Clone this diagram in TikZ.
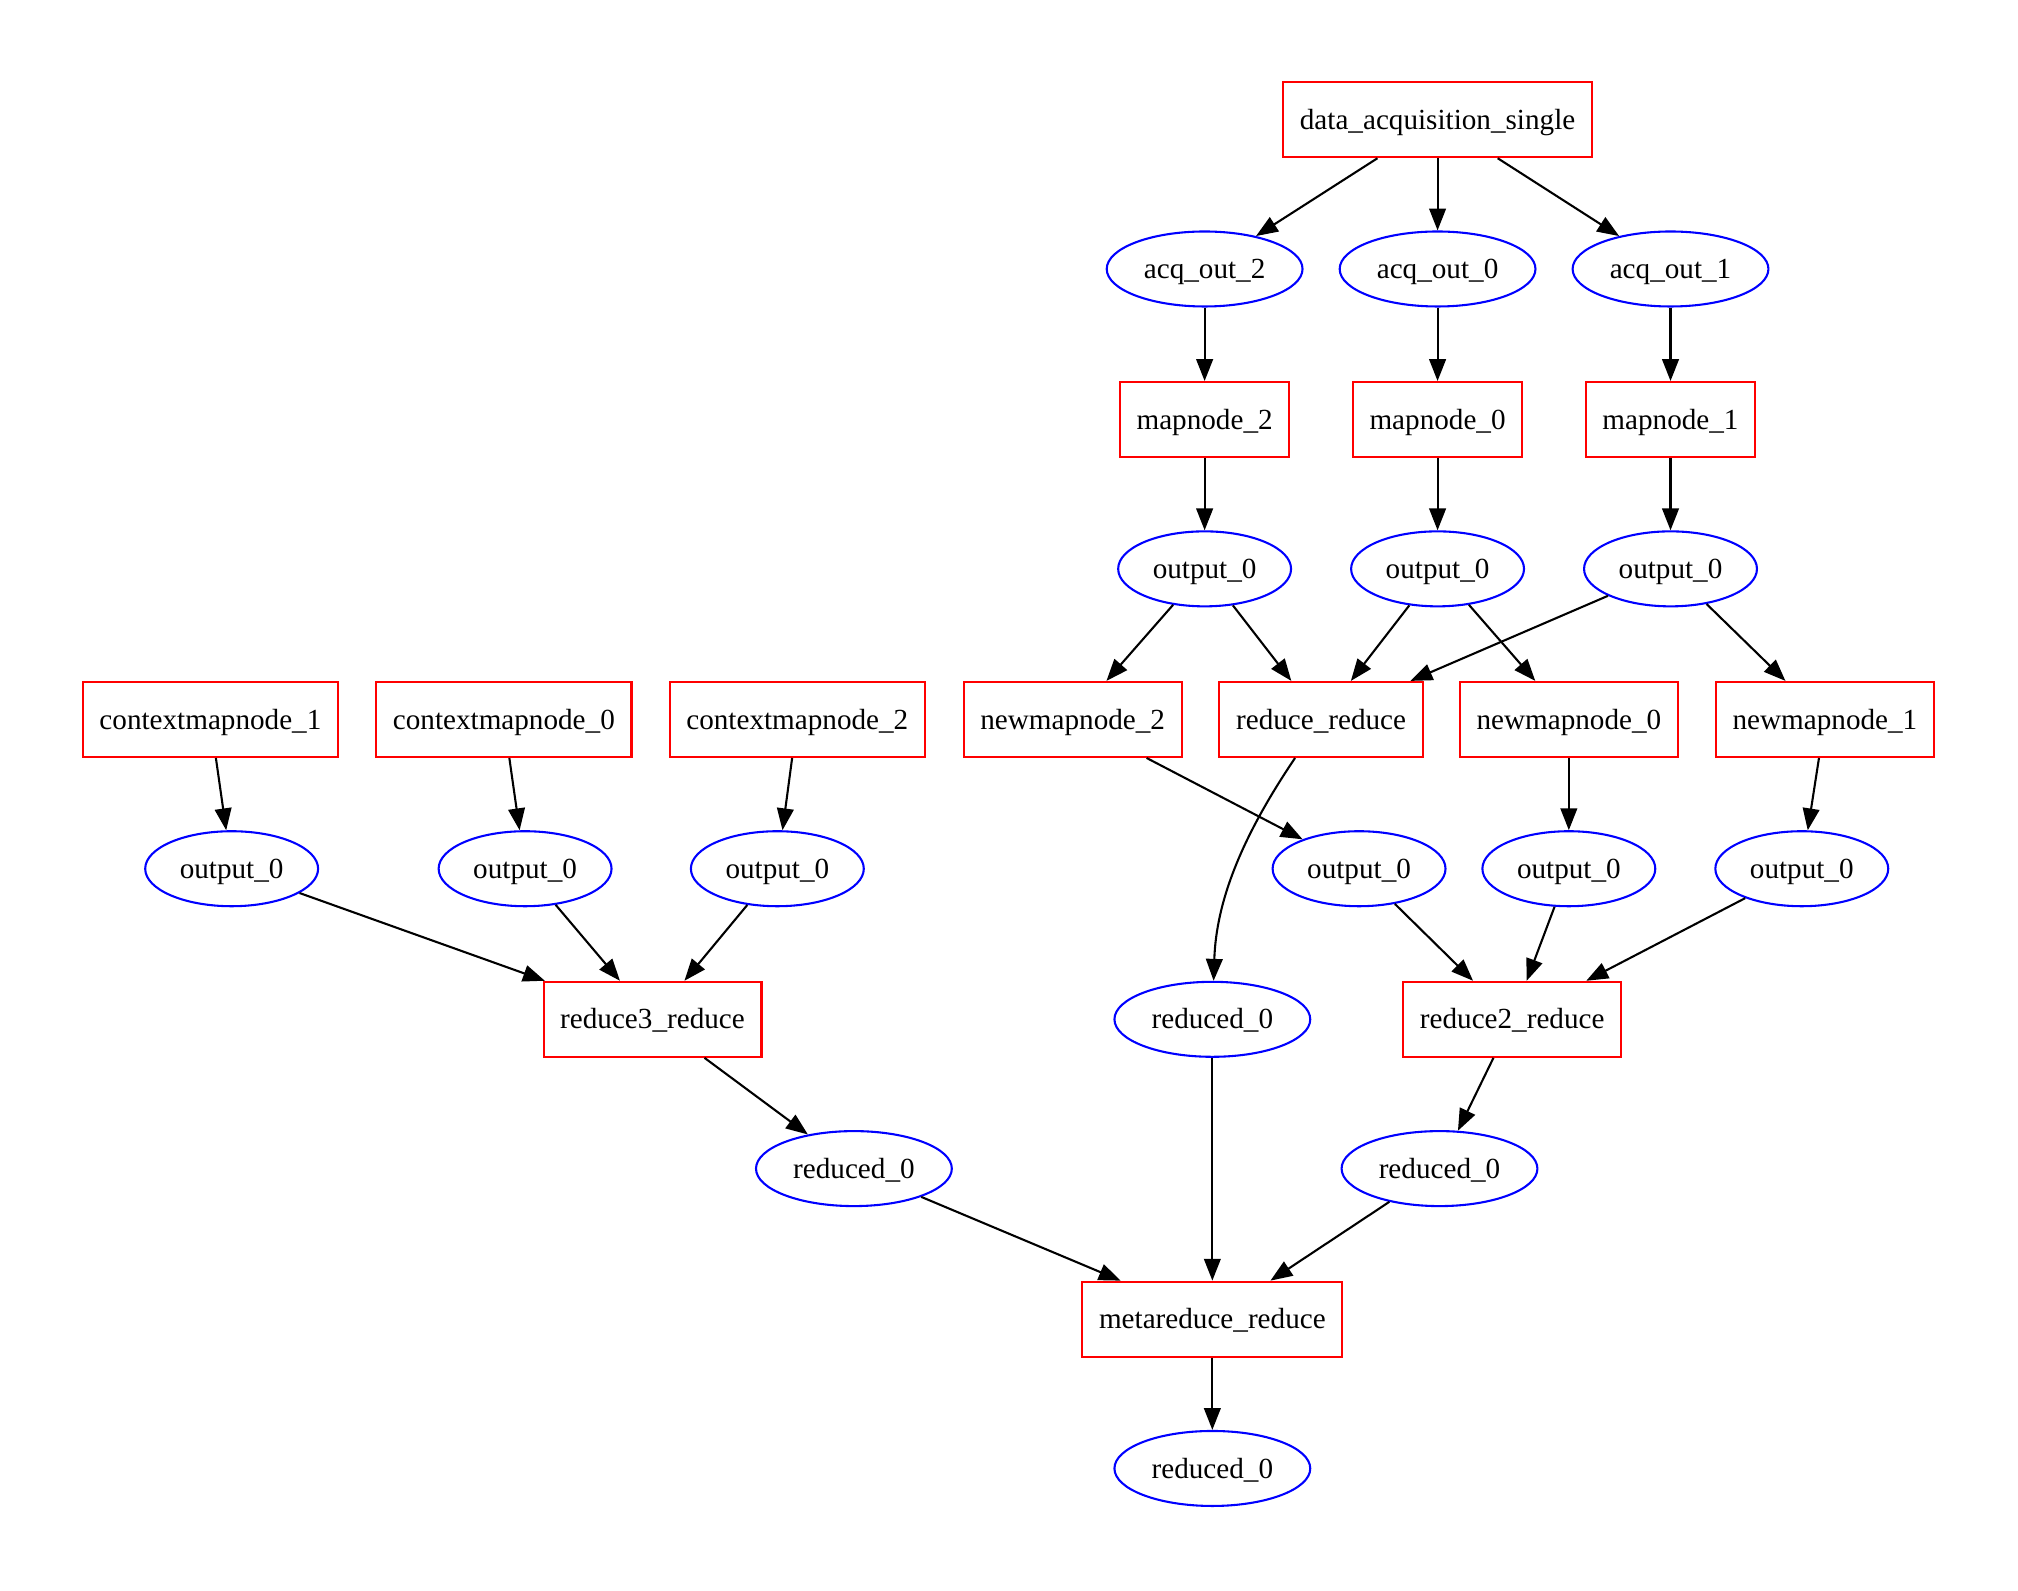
\documentclass[tikz,border=0pt]{standalone}
\usepackage{fontspec}
\setmainfont{Liberation Serif}
\usetikzlibrary{shapes.geometric,arrows.meta}

\begin{document}
\begin{tikzpicture}[x=0.6178pt,y=-0.6178pt,line width=1pt,>={Triangle[length=10.5pt,width=8pt]}]
	\tikzstyle{task}=[shape=rectangle,draw=red,minimum height=36pt,inner xsep=8pt,text height=11pt,text depth=1.8pt,font=\fontsize{14pt}{16pt}\selectfont]
	\tikzstyle{port}=[shape=ellipse,draw=blue,minimum height=36pt,minimum width=94pt,inner sep=0pt,text height=11pt,text depth=1.8pt,font=\fontsize{14pt}{16pt}\selectfont]
	\tikzstyle{oport}=[port,minimum width=83pt]
	\tikzstyle{link}=[->,black]

	\useasboundingbox (0,0) rectangle (1568,1236.2);

	%%%
	\node (das) at (1117,93) [task] {data\_acquisition\_single};

	\node (aq2) at (936,209) [port] {acq\_out\_2};
	\node (aq0) at (1117,209) [port] {acq\_out\_0};
	\node (aq1) at (1298,209) [port] {acq\_out\_1};

	\node (mn2) at (936,326) [task] {mapnode\_2};
	\node (mn0) at (1117,326) [task] {mapnode\_0};
	\node (mn1) at (1298,326) [task] {mapnode\_1};

	\node (mo2) at (936,442) [oport] {output\_0};
	\node (mo0) at (1117,442) [oport] {output\_0};
	\node (mo1) at (1298,442) [oport] {output\_0};

	%%%
	\node (cm1) at (163.5,559) [task] {contextmapnode\_1};
	\node (cm0) at (391.5,559) [task] {contextmapnode\_0};
	\node (cm2) at (619.5,559) [task] {contextmapnode\_2};
	\node (nm2) at (833.5,559) [task] {newmapnode\_2};
	\node (rr) at (1026.5,559) [task] {reduce\_reduce};
	\node (nm0) at (1219,559) [task] {newmapnode\_0};
	\node (nm1) at (1418,559) [task] {newmapnode\_1};

	\node (co1) at (180,675) [oport] {output\_0};
	\node (co0) at (408,675) [oport] {output\_0};
	\node (co2) at (604,675) [oport] {output\_0};
	\node (no2) at (1056,675) [oport] {output\_0};
	\node (no0) at (1219,675) [oport] {output\_0};
	\node (no1) at (1400,675) [oport] {output\_0};

	%%%
	\node (r3) at (507,792) [task] {reduce3\_reduce};
	\node (rd) at (942,792) [port] {reduced\_0};
	\node (r2) at (1175,792) [task] {reduce2\_reduce};

	\node (r3o) at (663.5,908) [port] {reduced\_0};
	\node (r2o) at (1118.5,908) [port] {reduced\_0};

	\node (mr) at (942,1025) [task] {metareduce\_reduce};
	\node (mro) at (942,1141) [port] {reduced\_0};

	%%%
	\draw[link] (das) -- (aq2);
	\draw[link] (das) -- (aq0);
	\draw[link] (das) -- (aq1);
	\draw[link] (aq2) -- (mn2);
	\draw[link] (aq0) -- (mn0);
	\draw[link] (aq1) -- (mn1);
	\draw[link] (mn2) -- (mo2);
	\draw[link] (mn0) -- (mo0);
	\draw[link] (mn1) -- (mo1);

	\draw[link] (mo2) -- (nm2);
	\draw[link] (mo2) -- (rr);
	\draw[link] (mo0) -- (rr);
	\draw[link] (mo0) -- (nm0);
	\draw[link] (mo1) -- (rr);
	\draw[link] (mo1) -- (nm1);

	%%%
	\draw[link] (cm1) -- (co1);
	\draw[link] (cm0) -- (co0);
	\draw[link] (cm2) -- (co2);
	\draw[link] (nm2) -- (no2);
	\draw[link] (nm0) -- (no0);
	\draw[link] (nm1) -- (no1);
	\draw[link] (rr) .. controls (965,650) and (945,700) .. (rd);

	\draw[link] (co1) -- (r3);
	\draw[link] (co0) -- (r3);
	\draw[link] (co2) -- (r3);
	\draw[link] (no2) -- (r2);
	\draw[link] (no0) -- (r2);
	\draw[link] (no1) -- (r2);

	%%%
	\draw[link] (r3) -- (r3o);
	\draw[link] (r2) -- (r2o);
	\draw[link] (r3o) -- (mr);
	\draw[link] (rd) -- (mr);
	\draw[link] (r2o) -- (mr);
	\draw[link] (mr) -- (mro);
\end{tikzpicture}
\end{document}
